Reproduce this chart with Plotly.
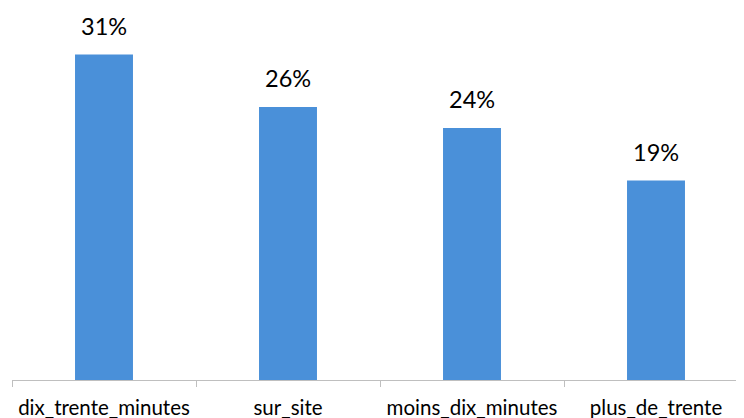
import plotly.graph_objects as go

# data
categories = ["dix_trente_minutes", "sur_site", "moins_dix_minutes", "plus_de_trente"]
values = [31, 26, 24, 19]
labels = ["31%", "26%", "24%", "19%"]

BAR_COLOR = "#4A90D9"

trace = go.Bar(
    x=categories,
    y=values,
    marker=dict(color=BAR_COLOR, line=dict(width=0)),
    hoverinfo="skip",
)

# value labels above each bar
annots = []
for c, v, t in zip(categories, values, labels):
    annots.append(dict(
        x=c, y=v, text=t, showarrow=False,
        yanchor="bottom", yshift=13,
        font=dict(family="Lato", size=23.5, color="#000000"),
    ))

# page has an 8px body margin, so margins are offset to compensate
layout = go.Layout(
    width=744,
    height=418,
    margin=dict(l=4, r=4, t=0, b=46),
    paper_bgcolor="white",
    plot_bgcolor="white",
    bargap=0.685,
    showlegend=False,
    annotations=annots,
    xaxis=dict(
        type="category",
        range=[-0.5, 3.5],
        showline=True,
        linecolor="#BFBFBF",
        linewidth=1,
        ticks="outside",
        tickson="boundaries",
        ticklen=6,
        tickcolor="#BFBFBF",
        tickfont=dict(family="Lato", size=20.5, color="#000000"),
        ticklabelstandoff=9,
        showgrid=False,
        zeroline=False,
        automargin=False,
    ),
    yaxis=dict(
        range=[0, 35.43],
        visible=False,
        showgrid=False,
        zeroline=False,
    ),
)

fig = go.Figure(data=[trace], layout=layout)
fig.write_html("out.html")
